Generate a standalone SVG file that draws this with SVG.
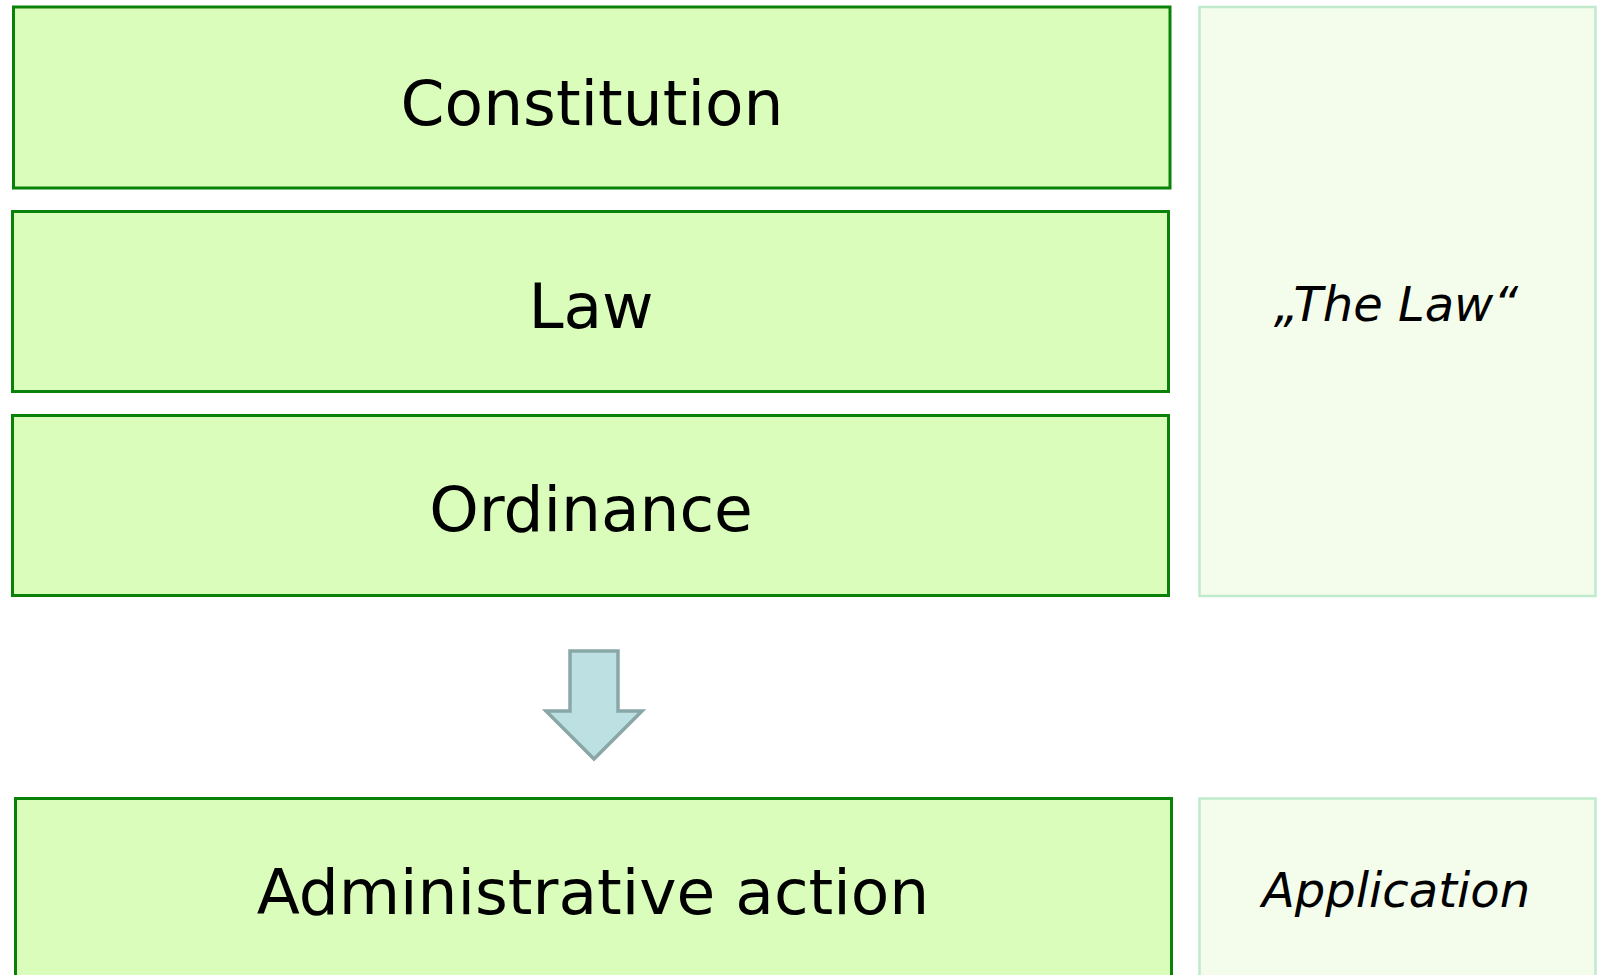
<svg xmlns="http://www.w3.org/2000/svg" width="1599" height="975" viewBox="0 0 1599 975">
<style>
.box{fill:#dbfdbb;stroke:#0a820a;stroke-width:3}
.side{fill:#f4fdec;stroke:#bfeacb;stroke-width:2.5}
.lbl{font-family:"DejaVu Sans",Verdana,sans-serif;font-size:63px;fill:#000;text-anchor:middle}
.it{font-family:"DejaVu Sans",Verdana,sans-serif;font-size:48px;font-style:italic;fill:#000;text-anchor:middle}
.arrow{fill:#bde0e3;stroke:#8aa7a7;stroke-width:3.5}
</style>
<rect width="1599" height="975" fill="#fff"/>
<g id="constitution"><rect class="box" x="13.5" y="7" width="1156.5" height="181"/><text class="lbl" x="592" y="125">Constitution</text></g>
<g id="law"><rect class="box" x="12.5" y="211.5" width="1156" height="180"/><text class="lbl" x="591" y="328">Law</text></g>
<g id="ordinance"><rect class="box" x="12.5" y="415.5" width="1156" height="180"/><text class="lbl" x="591" y="531">Ordinance</text></g>
<g id="administrative-action"><rect class="box" x="15.5" y="798.5" width="1156" height="190"/><text class="lbl" x="593" y="914">Administrative action</text></g>
<g id="the-law"><rect class="side" x="1199.5" y="7" width="396" height="589"/><text class="it" x="1396" y="321">„The Law“</text></g>
<g id="application"><rect class="side" x="1199.5" y="798.5" width="396" height="190"/><text class="it" x="1396" y="907">Application</text></g>
<g id="connectors"><path class="arrow" d="M570 651 H618 V711 H642 L594 759 L546 711 H570 Z"/></g>
</svg>
